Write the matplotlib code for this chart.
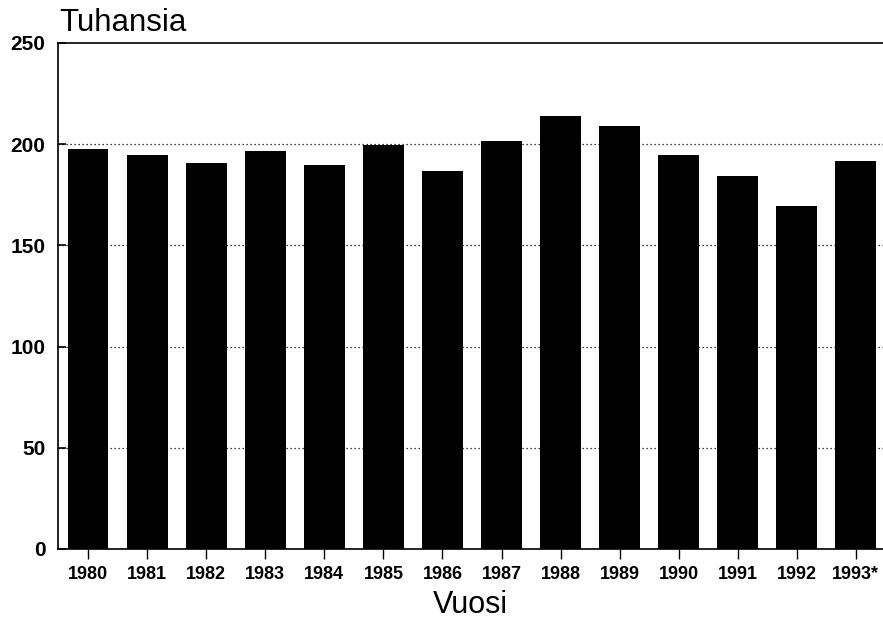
import matplotlib
matplotlib.use("Agg")
import matplotlib.pyplot as plt

years = ["1980", "1981", "1982", "1983", "1984", "1985", "1986",
         "1987", "1988", "1989", "1990", "1991", "1992", "1993*"]
values = [197.6, 194.5, 190.7, 196.5, 189.9, 199.4, 186.8,
          201.7, 213.9, 209.0, 194.7, 184.1, 169.5, 191.7]
yticks = [0, 50, 100, 150, 200, 250]

plt.rcParams['font.family'] = ['Liberation Sans', 'DejaVu Sans']

fig = plt.figure(figsize=(8.83, 6.21), dpi=100)
ax = fig.add_axes([58/883, 1 - 549/621, 1 - 58/883, (549 - 43)/621])

x = list(range(len(years)))
ax.bar(x, values, width=0.69, color='black', zorder=2)

ax.set_xlim(-0.51, 13.46)
ax.set_ylim(0, 250)
ax.set_yticks(yticks)
ax.set_yticklabels([str(v) for v in yticks], fontsize=15, fontweight='bold')
ax.set_xticks(x)
ax.set_xticklabels(years, fontsize=13, fontweight='bold')

for g in [50, 100, 150, 200]:
    ax.axhline(g, color='black', linestyle=(0, (1, 2.2)), linewidth=0.9, zorder=1)

ax.spines['right'].set_visible(False)
for s in ['left', 'bottom', 'top']:
    ax.spines[s].set_linewidth(1.2)

ax.tick_params(axis='y', direction='in', length=6, width=1.2, pad=9)
ax.tick_params(axis='x', direction='out', length=7, width=1.0, pad=5)

ax.set_xlabel("Vuosi", fontsize=22, labelpad=5)
fig.text(59/883, 1 - 31/621, "Tuhansia", fontsize=22.5, ha='left', va='baseline')

fig.savefig("out.png", dpi=100)
